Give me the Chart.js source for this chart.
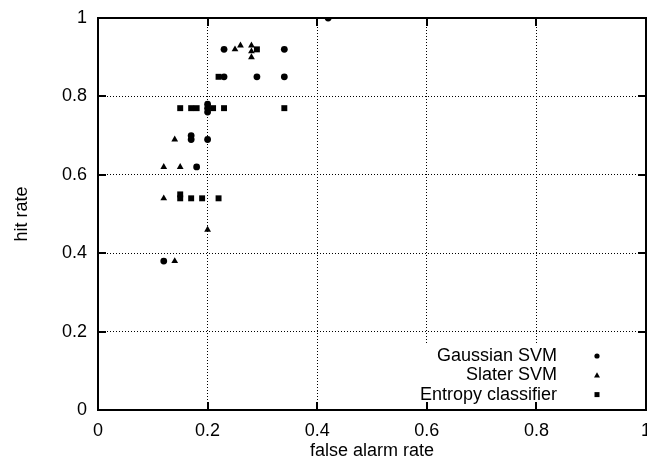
<!DOCTYPE html>
<html>
<head>
<meta charset="utf-8">
<script src="https://cdn.jsdelivr.net/npm/chart.js@4"></script>
<style>
  html, body { margin: 0; padding: 0; background: #fff; }
  #wrap { width: 647px; height: 464px; }
</style>
</head>
<body>
<div id="wrap"><canvas id="rocChart" width="647" height="464"></canvas></div>
<script>
// series (false alarm rate, hit rate)
const seriesNames = ['Gaussian SVM', 'Slater SVM', 'Entropy classifier'];
const gaussX = [0.42, 0.23, 0.34, 0.23, 0.29, 0.34, 0.20, 0.20, 0.20, 0.17, 0.17, 0.20, 0.18, 0.12];
const gaussY = [1.00, 0.92, 0.92, 0.85, 0.85, 0.85, 0.78, 0.77, 0.76, 0.70, 0.69, 0.69, 0.62, 0.38];
const slaterX = [0.25, 0.26, 0.28, 0.28, 0.28, 0.14, 0.12, 0.15, 0.12, 0.20, 0.14];
const slaterY = [0.92, 0.93, 0.93, 0.915, 0.90, 0.69, 0.62, 0.62, 0.54, 0.46, 0.38];
const entropyX = [0.29, 0.22, 0.15, 0.17, 0.18, 0.21, 0.23, 0.34, 0.15, 0.15, 0.17, 0.19, 0.22];
const entropyY = [0.92, 0.85, 0.77, 0.77, 0.77, 0.77, 0.77, 0.77, 0.55, 0.54, 0.54, 0.54, 0.54];
const xTicks = [0, 0.2, 0.4, 0.6, 0.8, 1];
const yTicks = [0, 0.2, 0.4, 0.6, 0.8, 1];

function toPoints(xs, ys) {
  return xs.map((x, i) => ({ x: x, y: ys[i] }));
}

const FONT = 'Liberation Sans, Arial, Helvetica, sans-serif';

// frame, inward ticks and the key box (gnuplot look)
const framePlugin = {
  id: 'frame',
  afterDraw(chart) {
    const c = chart.ctx;
    const a = chart.chartArea;
    const xs = chart.scales.x, ys = chart.scales.y;
    const L = Math.round(a.left), R = Math.round(a.right);
    const T = Math.round(a.top), B = Math.round(a.bottom);
    c.save();
    c.setLineDash([]);
    c.globalAlpha = 1;

    // key box blanks the grid behind it
    c.fillStyle = '#fff';
    c.fillRect(400, 344, R - 401, B - 345);

    // frame
    c.fillStyle = '#000';
    c.fillRect(L - 1, T - 1, R - L + 2, 2);
    c.fillRect(L - 1, B - 1, R - L + 2, 2);
    c.fillRect(L - 1, T - 1, 2, B - T + 2);
    c.fillRect(R - 1, T - 1, 2, B - T + 2);

    // inward ticks
    const tl = 8;
    xTicks.forEach(v => {
      const px = Math.round(xs.getPixelForValue(v));
      c.fillRect(px - 1, B - tl, 2, tl);
      c.fillRect(px - 1, T, 2, tl);
    });
    yTicks.forEach(v => {
      const py = Math.round(ys.getPixelForValue(v));
      c.fillRect(L, py - 1, tl, 2);
      c.fillRect(R - tl, py - 1, tl, 2);
    });

    // key
    c.font = '18px ' + FONT;
    c.textAlign = 'right';
    c.textBaseline = 'middle';
    chart.data.datasets.forEach((ds, i) => {
      const ty = 356 + i * 19.3;
      c.fillText(ds.label, 557, ty);
      const mx = 597;
      c.beginPath();
      if (ds.pointStyle === 'circle') {
        c.arc(mx, ty, 2.6, 0, Math.PI * 2);
      } else if (ds.pointStyle === 'triangle') {
        c.moveTo(mx, ty - 3); c.lineTo(mx + 3, ty + 2.2); c.lineTo(mx - 3, ty + 2.2);
        c.closePath();
      } else {
        c.rect(mx - 2.5, ty - 2.5, 5, 5);
      }
      c.fill();
    });
    c.restore();
  }
};

const ctx = document.getElementById('rocChart').getContext('2d');
const rocChart = new Chart(ctx, {
  type: 'scatter',
  data: {
    datasets: [
      {
        label: seriesNames[0],
        data: toPoints(gaussX, gaussY),
        pointStyle: 'circle',
        pointRadius: 3.4,
        backgroundColor: '#000',
        borderWidth: 0
      },
      {
        label: seriesNames[1],
        data: toPoints(slaterX, slaterY),
        pointStyle: 'triangle',
        pointRadius: 3.9,
        backgroundColor: '#000',
        borderWidth: 0
      },
      {
        label: seriesNames[2],
        data: toPoints(entropyX, entropyY),
        pointStyle: 'rect',
        pointRadius: 4.2,
        backgroundColor: '#000',
        borderWidth: 0
      }
    ]
  },
  options: {
    responsive: false,
    animation: false,
    layout: { autoPadding: false, padding: { top: 18, right: 1, left: 0, bottom: 0 } },
    plugins: {
      legend: { display: false },
      tooltip: { enabled: false }
    },
    scales: {
      x: {
        type: 'linear',
        min: 0,
        max: 1,
        afterBuildTicks: s => { s.ticks = xTicks.map(v => ({ value: v })); },
        afterFit: s => { s.height = 54; s.paddingLeft = 0; s.paddingRight = 0; },
        ticks: {
          color: '#000',
          font: { family: FONT, size: 18 },
          padding: 10,
          maxRotation: 0,
          callback: v => String(v)
        },
        grid: { color: '#000', lineWidth: 1, drawTicks: false },
        border: { display: false, dash: [1, 2] },
        title: {
          display: true,
          text: 'false alarm rate',
          color: '#000',
          font: { family: FONT, size: 18 },
          padding: { top: 4, bottom: 2 }
        }
      },
      y: {
        type: 'linear',
        min: 0,
        max: 1,
        afterBuildTicks: s => { s.ticks = yTicks.map(v => ({ value: v })); },
        afterFit: s => { s.width = 98; s.paddingTop = 0; s.paddingBottom = 0; },
        ticks: {
          color: '#000',
          font: { family: FONT, size: 18 },
          padding: 11,
          callback: v => String(v)
        },
        grid: { color: '#000', lineWidth: 1, drawTicks: false },
        border: { display: false, dash: [1, 2] },
        title: {
          display: true,
          text: 'hit rate',
          color: '#000',
          font: { family: FONT, size: 18 },
          padding: { top: 11, bottom: 0 }
        }
      }
    }
  },
  plugins: [framePlugin]
});
</script>
</body>
</html>
